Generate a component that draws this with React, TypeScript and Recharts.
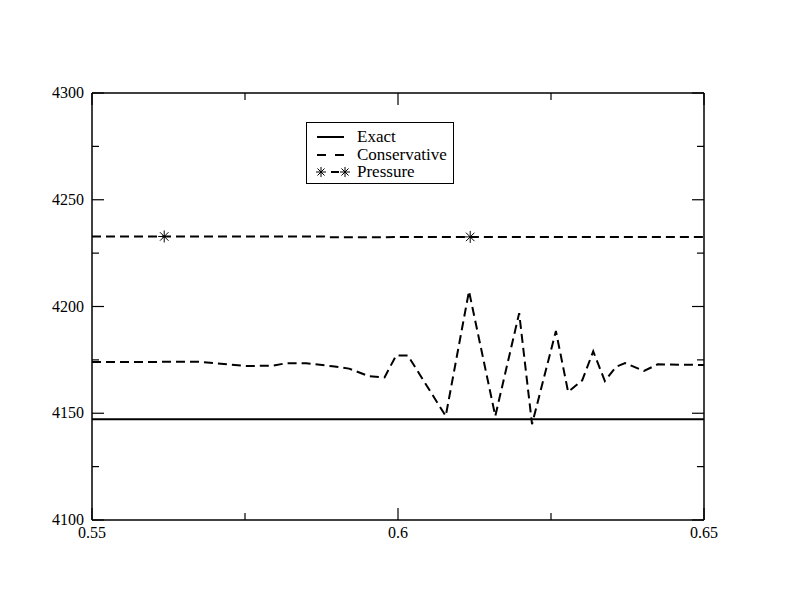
import React from 'react';
import { LineChart, Line, XAxis, YAxis } from 'recharts';

// values
const exactX = [0.55, 0.65];
const exactY = [4147.2, 4147.2];

const conservativeX = [
  0.55, 0.5676, 0.5752, 0.5795, 0.5817, 0.585, 0.5893, 0.592, 0.5953, 0.5978,
  0.5997, 0.6016, 0.6078, 0.6116, 0.6159, 0.6198, 0.6219, 0.6258, 0.6278,
  0.6301, 0.6319, 0.6338, 0.6356, 0.6371, 0.6402, 0.6424, 0.65,
];
const conservativeY = [
  4174.0, 4174.1, 4172.1, 4172.3, 4173.4, 4173.4, 4172.0, 4170.9, 4167.3, 4166.8,
  4177.1, 4177.1, 4148.7, 4207.2, 4148.7, 4196.9, 4144.9, 4188.5, 4160.0,
  4165.4, 4179.0, 4165.1, 4171.7, 4173.5, 4169.8, 4172.9, 4172.6,
];

const pressureX = [0.55, 0.5618, 0.588, 0.5885, 0.6118, 0.65];
const pressureY = [4232.8, 4232.8, 4232.8, 4232.4, 4232.6, 4232.6];
const pressureMarked = [false, true, false, false, true, false];

const xTicks = [0.55, 0.575, 0.6, 0.625, 0.65];
const xMajor = [0.55, 0.6, 0.65];
const yTicks = [4100, 4125, 4150, 4175, 4200, 4225, 4250, 4275, 4300];
const yMajor = [4100, 4150, 4200, 4250, 4300];

const exactData = exactX.map((x, i) => ({ x, y: exactY[i] }));
const conservativeData = conservativeX.map((x, i) => ({ x, y: conservativeY[i] }));
const pressureData = pressureX.map((x, i) => ({ x, y: pressureY[i], m: pressureMarked[i] }));

const W = 792;
const H = 612;
// plot frame edges
const L = 92;
const R = 704;
const T = 93;
const B = 520;
const AX = 10; // axis band size
const M = { top: T - AX, right: W - R - AX, bottom: H - B - AX, left: L - AX };
const FONT = '"Liberation Serif", "DejaVu Serif", serif';

const LeftTick = (props: any) => {
  const { y, payload } = props;
  const major = yMajor.includes(payload.value);
  return (
    <g>
      <line x1={L} x2={L + (major ? 12 : 7)} y1={y} y2={y} stroke="#000" strokeWidth={1.2} />
      {major && (
        <text x={L - 8} y={y} dy={5} textAnchor="end" fontFamily={FONT} fontSize={16} fill="#000">
          {payload.value}
        </text>
      )}
    </g>
  );
};

const RightTick = (props: any) => {
  const { y, payload } = props;
  const major = yMajor.includes(payload.value);
  return <line x1={R} x2={R - (major ? 12 : 7)} y1={y} y2={y} stroke="#000" strokeWidth={1.2} />;
};

const BottomTick = (props: any) => {
  const { x, payload } = props;
  const major = xMajor.includes(payload.value);
  return (
    <g>
      <line x1={x} x2={x} y1={B} y2={B - (major ? 12 : 7)} stroke="#000" strokeWidth={1.2} />
      {major && (
        <text x={x} y={B + 18} textAnchor="middle" fontFamily={FONT} fontSize={16} fill="#000">
          {payload.value}
        </text>
      )}
    </g>
  );
};

const TopTick = (props: any) => {
  const { x, payload } = props;
  const major = xMajor.includes(payload.value);
  return <line x1={x} x2={x} y1={T} y2={T + (major ? 12 : 7)} stroke="#000" strokeWidth={1.2} />;
};

const Star = ({ cx, cy, r = 6 }: { cx: number; cy: number; r?: number }) => {
  const d = r * 0.707;
  return (
    <g stroke="#000" strokeWidth={1}>
      <line x1={cx - r} x2={cx + r} y1={cy} y2={cy} />
      <line x1={cx} x2={cx} y1={cy - r} y2={cy + r} />
      <line x1={cx - d} x2={cx + d} y1={cy - d} y2={cy + d} />
      <line x1={cx - d} x2={cx + d} y1={cy + d} y2={cy - d} />
    </g>
  );
};

const PressureDot = (props: any) => {
  const { cx, cy, payload, index } = props;
  if (!payload.m) return <g key={index} />;
  return <Star key={index} cx={cx} cy={cy} />;
};

function LegendBox() {
  const rows = [
    { name: 'Exact', kind: 'solid' },
    { name: 'Conservative', kind: 'dash' },
    { name: 'Pressure', kind: 'star' },
  ];
  return (
    <div
      style={{
        position: 'absolute',
        left: 306,
        top: 122,
        width: 148,
        height: 62,
        border: '1px solid #000',
        background: '#fff',
        fontFamily: FONT,
        fontSize: 17,
        paddingTop: 5,
        boxSizing: 'border-box',
      }}
    >
      {rows.map((r) => (
        <div key={r.name} style={{ display: 'flex', alignItems: 'center', height: 17.5 }}>
          <svg width={50} height={17} style={{ flex: 'none' }}>
            {r.kind === 'solid' && <line x1={10} x2={37} y1={9} y2={9} stroke="#000" strokeWidth={2} />}
            {r.kind === 'dash' && (
              <line x1={10} x2={37} y1={9} y2={9} stroke="#000" strokeWidth={2} strokeDasharray="9 9" />
            )}
            {r.kind === 'star' && (
              <g>
                <Star cx={14} cy={9} r={5} />
                <line x1={24} x2={32} y1={9} y2={9} stroke="#000" strokeWidth={2} />
                <Star cx={38} cy={9} r={5} />
              </g>
            )}
          </svg>
          <span style={{ lineHeight: '17px' }}>{r.name}</span>
        </div>
      ))}
    </div>
  );
}

export default function App() {
  return (
    <div style={{ position: 'absolute', left: 0, top: 0, width: W, height: H, background: '#fff' }}>
      <LineChart width={W} height={H} margin={M}>
        <XAxis
          type="number"
          dataKey="x"
          domain={[0.55, 0.65]}
          ticks={xTicks}
          interval={0}
          height={AX}
          tick={<BottomTick />}
          tickLine={false}
          axisLine={{ stroke: '#000', strokeWidth: 1.5 }}
          allowDataOverflow
        />
        <XAxis
          xAxisId="top"
          orientation="top"
          type="number"
          dataKey="x"
          domain={[0.55, 0.65]}
          ticks={xTicks}
          interval={0}
          height={AX}
          tick={<TopTick />}
          tickLine={false}
          axisLine={{ stroke: '#000', strokeWidth: 1.5 }}
          allowDataOverflow
        />
        <YAxis
          type="number"
          domain={[4100, 4300]}
          ticks={yTicks}
          interval={0}
          width={AX}
          tick={<LeftTick />}
          tickLine={false}
          axisLine={{ stroke: '#000', strokeWidth: 1.5 }}
          allowDataOverflow
        />
        <YAxis
          yAxisId="right"
          orientation="right"
          type="number"
          domain={[4100, 4300]}
          ticks={yTicks}
          interval={0}
          width={AX}
          tick={<RightTick />}
          tickLine={false}
          axisLine={{ stroke: '#000', strokeWidth: 1.5 }}
          allowDataOverflow
        />
        <Line
          data={exactData}
          dataKey="y"
          type="linear"
          stroke="#000"
          strokeWidth={2}
          dot={false}
          isAnimationActive={false}
        />
        <Line
          data={conservativeData}
          dataKey="y"
          type="linear"
          stroke="#000"
          strokeWidth={2}
          strokeDasharray="9 5"
          dot={false}
          isAnimationActive={false}
        />
        <Line
          data={pressureData}
          dataKey="y"
          type="linear"
          stroke="#000"
          strokeWidth={2}
          strokeDasharray="9 5"
          dot={<PressureDot />}
          isAnimationActive={false}
        />
      </LineChart>
      <LegendBox />
    </div>
  );
}
